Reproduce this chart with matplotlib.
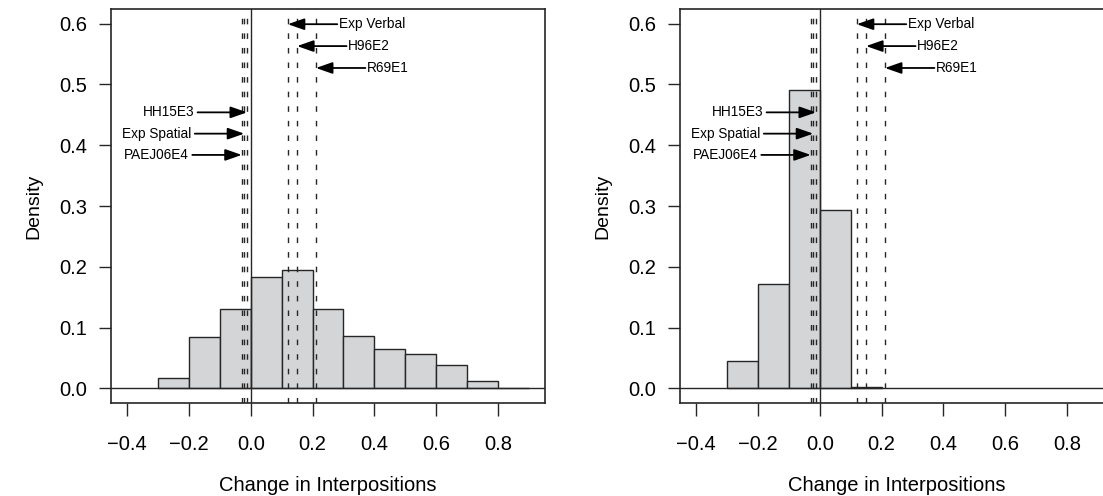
import matplotlib
matplotlib.use("Agg")
import matplotlib.pyplot as plt
import numpy as np

plt.rcParams["font.family"] = ["Liberation Sans", "DejaVu Sans"]
plt.rcParams["lines.scale_dashes"] = False

# histogram data (bin width 0.1)
bin_edges = [-0.3, -0.2, -0.1, 0.0, 0.1, 0.2, 0.3, 0.4, 0.5, 0.6, 0.7, 0.8, 0.9]
density_left = [0.017, 0.084, 0.130, 0.183, 0.195, 0.131, 0.087, 0.065, 0.056, 0.038, 0.012, 0.001]
density_right = [0.045, 0.172, 0.490, 0.294, 0.002, 0.0, 0.0, 0.0, 0.0, 0.0, 0.0, 0.0]

# reference effects
left_labels = ["HH15E3", "Exp Spatial", "PAEJ06E4"]
left_values = [-0.012, -0.021, -0.029]
left_y = [0.454, 0.419, 0.384]
right_labels = ["Exp Verbal", "H96E2", "R69E1"]
right_values = [0.120, 0.150, 0.211]
right_y = [0.599, 0.563, 0.527]

xticks = [-0.4, -0.2, 0.0, 0.2, 0.4, 0.6, 0.8]
yticks = [0.0, 0.1, 0.2, 0.3, 0.4, 0.5, 0.6]

W, H = 1103, 496
fig = plt.figure(figsize=(W / 100, H / 100), dpi=100)
ax_l = fig.add_axes([111 / W, (H - 403) / H, 434 / W, 394 / H])
ax_r = fig.add_axes([680 / W, (H - 403) / H, 434 / W, 394 / H])

LC = "#262626"
arrow_len = 0.16
AST = "-|>,head_length=1.0,head_width=0.35"


def draw_panel(ax, dens):
    lefts = np.array(bin_edges[:-1])
    widths = np.diff(bin_edges)
    nz = np.array(dens) > 0
    ax.bar(lefts[nz], np.array(dens)[nz], width=widths[nz], align="edge",
           color="#d4d5d7", edgecolor=LC, linewidth=1.0, zorder=1)
    ax.axhline(0, color=LC, lw=1.0, zorder=2)
    ax.axvline(0, color=LC, lw=1.0, zorder=3)
    for v in left_values + right_values:
        ax.axvline(v, color=LC, lw=1.0, dashes=(4, 6.5), zorder=3)
    for lab, v, y in zip(right_labels, right_values, right_y):
        ax.annotate("", xy=(v, y), xytext=(v + arrow_len, y),
                    arrowprops=dict(arrowstyle=AST, color="black", lw=1.3,
                                    mutation_scale=10, shrinkA=0, shrinkB=0),
                    zorder=4)
        ax.text(v + arrow_len + 0.005, y, lab, ha="left", va="center", fontsize=9.8)
    for lab, v, y in zip(left_labels, left_values, left_y):
        ax.annotate("", xy=(v, y), xytext=(v - arrow_len, y),
                    arrowprops=dict(arrowstyle=AST, color="black", lw=1.3,
                                    mutation_scale=10, shrinkA=0, shrinkB=0),
                    zorder=4)
        ax.text(v - arrow_len - 0.01, y, lab, ha="right", va="center", fontsize=9.8)

    ax.set_xlim(-0.452, 0.952)
    ax.set_ylim(-0.024, 0.624)
    ax.set_xticks(xticks)
    ax.set_xticklabels(["\u22120.4", "\u22120.2", "0.0", "0.2", "0.4", "0.6", "0.8"])
    ax.set_yticks(yticks)
    ax.set_yticklabels([f"{t:.1f}" for t in yticks])
    ax.tick_params(axis="x", length=9, width=1.0, color=LC, pad=14, labelsize=14.5)
    ax.tick_params(axis="y", length=9, width=1.0, color=LC, pad=8, labelsize=14.5)
    for s in ax.spines.values():
        s.set_color(LC)
        s.set_linewidth(1.2)
    ax.set_xlabel("Change in Interpositions", fontsize=14.5, labelpad=16)
    ax.set_ylabel("Density", fontsize=14, labelpad=12)


draw_panel(ax_l, density_left)
draw_panel(ax_r, density_right)

fig.savefig("out.png", dpi=100, facecolor="white")
